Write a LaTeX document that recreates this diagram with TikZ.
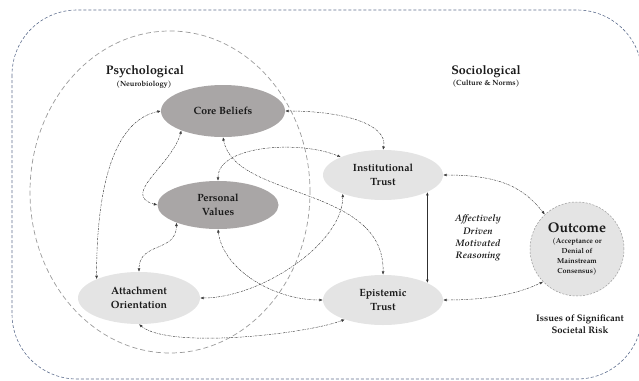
\documentclass[tikz,border=0pt]{standalone}
\usepackage{fontspec}
\setmainfont{TeX Gyre Pagella}
\usetikzlibrary{arrows.meta,shapes.geometric}

\definecolor{darknode}{HTML}{A9A6A6}
\definecolor{lightnode}{HTML}{E4E4E4}
\definecolor{framecol}{HTML}{5F6F8F}
\definecolor{zonecol}{HTML}{9A9A9A}
\definecolor{linkcol}{HTML}{3C3C3C}
\definecolor{inkcol}{HTML}{1A1A1A}

\tikzset{
  blob/.style={ellipse, inner sep=0pt, align=center, text=inkcol,
    font=\bfseries\fontsize{10.5}{14}\selectfont},
  darkblob/.style={blob, fill=darknode},
  lightblob/.style={blob, fill=lightnode},
  tip/.tip={Latex[length=3.4pt,width=2.8pt]},
  link/.style={linkcol, line width=0.45pt,
    dash pattern=on 2.2pt off 1pt on 0.6pt off 1pt, tip-tip},
  solidlink/.style={linkcol!80!black, line width=0.6pt, tip-tip},
  heading/.style={text=inkcol, align=center, inner sep=0pt},
}

\begin{document}
\begin{tikzpicture}[x=1pt,y=-1pt]
  \useasboundingbox (0,0) rectangle (639,380);

  % outer frame and psychological zone
  \draw[framecol, line width=0.6pt, dash pattern=on 3pt off 2pt,
        rounded corners=65pt] (12,10) rectangle (642,379);
  \draw[zonecol, line width=0.7pt, dash pattern=on 5pt off 3pt]
        (170,192) ellipse [x radius=140pt, y radius=161pt];

  % zone headings
  \node[heading, font=\bfseries\fontsize{12.5}{14}\selectfont] (psyh) at (145,72) {Psychological};
  \node[heading, font=\bfseries\fontsize{7.5}{8}\selectfont] (psys) at (144,85) {(Neurobiology)};
  \node[heading, font=\bfseries\fontsize{12.5}{14}\selectfont] (soch) at (486,72) {Sociological};
  \node[heading, font=\bfseries\fontsize{7.5}{8}\selectfont] (socs) at (486,84) {(Culture \& Norms)};

  % factors
  \node[darkblob, minimum width=124pt, minimum height=52pt] (cb) at (223,111) {Core Beliefs};
  \node[darkblob, minimum width=121pt, minimum height=48pt] (pv) at (218,205) {Personal\\Values};
  \node[lightblob, minimum width=122pt, minimum height=52pt] (ao) at (139,298) {Attachment\\Orientation};
  \node[lightblob, minimum width=120pt, minimum height=50pt] (it) at (383,175) {Institutional\\Trust};
  \node[lightblob, minimum width=120pt, minimum height=50pt] (et) at (383,300) {Epistemic\\Trust};

  \node[circle, minimum size=94pt, inner sep=0pt, fill=lightnode, draw=zonecol,
        line width=0.5pt, dash pattern=on 2pt off 1.5pt, align=center, text=inkcol,
        font=\bfseries\fontsize{7.2}{9.8}\selectfont]
        (out) at (577,249)
        {{\fontsize{14}{15}\selectfont Outcome}\\[1pt]
         (Acceptance or\\Denial of\\Mainstream\\Consensus)};

  \node[heading, font=\bfseries\itshape\fontsize{9.5}{12.3}\selectfont] (adm) at (478,238)
        {Affectively\\Driven\\Motivated\\Reasoning};
  \node[heading, font=\bfseries\fontsize{9.5}{12}\selectfont] (risk) at (580,324)
        {Issues of Significant\\Societal Risk};

  % links
  \draw[link] (cb.west) .. controls +(-40,8) and +(0,-110) .. (ao.156);
  \draw[link] (cb.205) .. controls (172,165) and (120,195) .. (pv.west);
  \draw[link] (pv.203) .. controls +(0,30) and +(0,-30) .. (ao.north);
  \draw[link] (cb.east) .. controls +(60,0) and +(5,-25) .. (it.north);
  \draw[link] (pv.north) .. controls (218,145) and (300,140) .. (it.157);
  \draw[link] (cb.south) .. controls (235,200) and (385,185) .. (et.north);
  \draw[link] (pv.south) .. controls +(5,40) and +(-50,0) .. (et.west);
  \draw[link] (it.205) .. controls +(0,50) and +(60,0) .. (ao.east);
  \draw[link] (ao.south) .. controls +(30,25) and +(-40,15) .. (et.207);
  \draw[solidlink] (it.339) -- (et.21);
  \draw[link] (it.east) .. controls +(60,0) and +(-20,-25) .. (out.133);
  \draw[link] (et.east) .. controls +(45,0) and +(-25,12) .. (out.224);
\end{tikzpicture}
\end{document}
